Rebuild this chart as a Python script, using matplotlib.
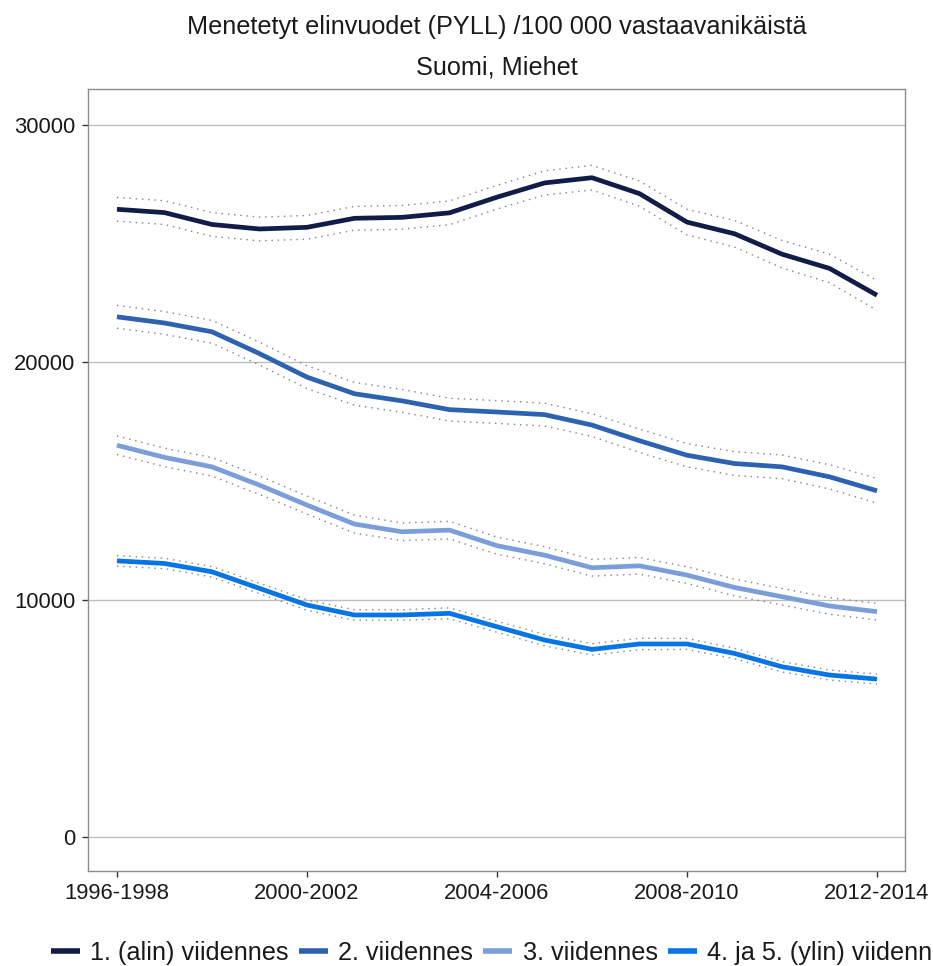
import numpy as np
import matplotlib
matplotlib.use("Agg")
from matplotlib import pyplot as plt

plt.rcParams['font.family'] = ['Liberation Sans', 'DejaVu Sans']

# kolmivuotisjaksot
periods = [f"{y}-{y + 2}" for y in range(1996, 2013)]
tickLabels = ["1996-1998", "2000-2002", "2004-2006", "2008-2010", "2012-2014"]

seriesNames = ["1. (alin) viidennes", "2. viidennes", "3. viidennes", "4. ja 5. (ylin) viidennes"]
seriesColors = ["#111d48", "#2c62b0", "#7b9edb", "#0475e4"]

q1 = [26440, 26300, 25800, 25610, 25680, 26060, 26100, 26290, 26950, 27550,
      27770, 27100, 25900, 25410, 24550, 23950, 22820]
q2 = [21910, 21650, 21280, 20360, 19370, 18670, 18370, 18000, 17900, 17790,
      17350, 16690, 16080, 15730, 15590, 15170, 14580]
q3 = [16500, 15990, 15590, 14820, 13980, 13180, 12855, 12925, 12270, 11870,
      11340, 11420, 11030, 10510, 10120, 9730, 9490]
q4 = [11630, 11520, 11170, 10470, 9770, 9350, 9350, 9420, 8855, 8295,
      7900, 8130, 8130, 7730, 7170, 6820, 6650]

# luottamusvälin puolileveys
ci1 = [500, 500, 500, 500, 500, 500, 500, 500, 500, 510, 520, 530, 540, 560, 580, 600, 630]
ci2 = [480, 480, 480, 480, 480, 480, 480, 480, 480, 480, 480, 490, 490, 500, 500, 510, 520]
ci3 = [390, 390, 390, 390, 380, 380, 370, 370, 360, 360, 350, 350, 350, 350, 350, 350, 350]
ci4 = [220, 220, 220, 220, 220, 220, 220, 230, 230, 240, 240, 240, 230, 220, 220, 210, 210]

allSeries = [q1, q2, q3, q4]
allCi = [ci1, ci2, ci3, ci4]

fig = plt.figure(figsize=(9.33, 9.66), dpi=100)
ax = fig.add_axes([0.0943, 0.0987, 0.8757, 0.809])

x = np.arange(len(periods))
for vals, ci, color, name in zip(allSeries, allCi, seriesColors, seriesNames):
    vals = np.array(vals)
    ci = np.array(ci)
    ax.plot(x, vals + ci, color="#808080", linestyle=(0, (1, 3.5)), linewidth=1.0)
    ax.plot(x, vals - ci, color="#808080", linestyle=(0, (1, 3.5)), linewidth=1.0)
    ax.plot(x, vals, color=color, linewidth=3.4, label=name, solid_capstyle="butt")

ax.set_xlim(-0.61, 16.59)
ax.set_ylim(-1420, 31500)
ax.set_yticks([0, 10000, 20000, 30000])
ax.set_yticklabels(["0", "10000", "20000", "30000"])
ax.set_xticks([periods.index(t) for t in tickLabels])
ax.set_xticklabels(tickLabels)
ax.yaxis.grid(True, color="#bebebe", linewidth=1.0)
ax.set_axisbelow(True)

for s in ax.spines.values():
    s.set_color("#8c8c8c")
    s.set_linewidth(1.0)
ax.tick_params(axis="both", colors="#333333", labelcolor="#1a1a1a", labelsize=15.8,
               length=4, width=1, pad=5)

# otsikko keskitetään kuvaajan alueen mukaan
titleX = 0.0943 + 0.8757 / 2
fig.text(titleX, 0.972, "Menetetyt elinvuodet (PYLL) /100 000 vastaavanikäistä", ha="center", va="center",
         fontsize=18.2, color="#1a1a1a")
fig.text(titleX, 0.9306, "Suomi, Miehet", ha="center", va="center", fontsize=18.2, color="#1a1a1a")

leg = fig.legend(loc="center left", bbox_to_anchor=(0.0543, 0.0135), ncol=4, frameon=False,
                 fontsize=18.2, handlelength=1.16, handletextpad=0.4, columnspacing=0.4,
                 borderpad=0, borderaxespad=0)
for line in leg.get_lines():
    line.set_linewidth(4)
for t in leg.get_texts():
    t.set_color("#1a1a1a")

fig.savefig("out.png", dpi=100)
